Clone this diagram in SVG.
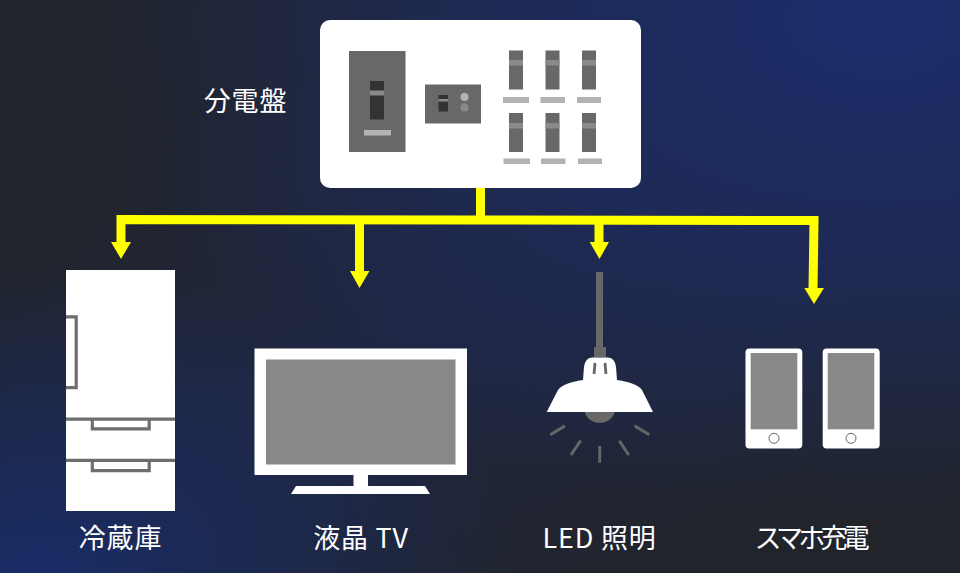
<svg xmlns="http://www.w3.org/2000/svg" width="960" height="573" viewBox="0 0 960 573">
<style>
.w{fill:#fff}.d{fill:#686868}.k{fill:#333}.m{fill:#8a8a8a}.l{fill:#b3b3b3}
.scr{fill:#888}
.conn{fill:none;stroke:#ff0;stroke-width:9}
.head{fill:#ff0}
.ray{stroke:#666;stroke-width:3;fill:none}
.line{fill:none;stroke:#6e6e6e;stroke-width:3.2}
text{font-family:"Noto Sans CJK JP","Noto Sans",sans-serif;font-size:27px;font-weight:400;letter-spacing:.8px;fill:#fff;text-anchor:middle}
</style>
<defs>
<radialGradient id="tr" gradientUnits="userSpaceOnUse" cx="0" cy="0" r="1" gradientTransform="translate(880 20) scale(800 500)">
<stop offset="0" stop-color="#1c2d6c"/>
<stop offset=".5" stop-color="#1c2d6c" stop-opacity=".62"/>
<stop offset="1" stop-color="#1c2d6c" stop-opacity="0"/>
</radialGradient>
<radialGradient id="bl" gradientUnits="userSpaceOnUse" cx="0" cy="0" r="1" gradientTransform="translate(40 570) scale(480 310)">
<stop offset="0" stop-color="#192c66"/>
<stop offset=".5" stop-color="#192c66" stop-opacity=".55"/>
<stop offset="1" stop-color="#192c66" stop-opacity="0"/>
</radialGradient>
<radialGradient id="mid" gradientUnits="userSpaceOnUse" cx="0" cy="0" r="1" gradientTransform="translate(430 340) scale(430 280)">
<stop offset="0" stop-color="#1f2748" stop-opacity=".75"/>
<stop offset="1" stop-color="#1f2748" stop-opacity="0"/>
</radialGradient>
</defs>
<rect width="960" height="573" fill="#21242b"/>
<rect width="960" height="573" fill="url(#mid)"/>
<rect width="960" height="573" fill="url(#tr)"/>
<rect width="960" height="573" fill="url(#bl)"/>
<g id="connectors">
<path class="conn" d="M480.500 188V219.500"/>
<path class="conn" d="M121 244V219.500L480 220L814 220.500L813 290"/>
<path class="conn" d="M359.500 220V273"/>
<path class="conn" d="M599 220V244"/>
<path class="head" d="M111 242H131L121 259Z"/>
<path class="head" d="M350 271H369.500L359.500 288Z"/>
<path class="head" d="M589.700 242H609L599.500 259Z"/>
<path class="head" d="M804.300 288H824L814 304Z"/>
</g>
<g id="panel">
<rect class="w" x="320" y="20" width="321" height="168" rx="10"/>
<rect class="d" x="349" y="51" width="56.500" height="101"/>
<rect class="k" x="370" y="81" width="14" height="38.500"/>
<rect class="m" x="370" y="90.500" width="14" height="5"/>
<rect class="l" x="364" y="130" width="27" height="5.500"/>
<rect class="d" x="425" y="84.500" width="56" height="39"/>
<rect class="k" x="438.500" y="95" width="9.500" height="16.500"/>
<rect class="m" x="438.500" y="99" width="9.500" height="2.500"/>
<circle class="l" cx="464.500" cy="97" r="4"/>
<circle class="m" cx="464.500" cy="107.500" r="4"/>
<rect class="d" x="509" y="50.500" width="14" height="39"/><rect class="m" x="509" y="60" width="14" height="5.500"/>
<rect class="d" x="545.500" y="50.500" width="14" height="39"/><rect class="m" x="545.500" y="60" width="14" height="5.500"/>
<rect class="d" x="582" y="50.500" width="14" height="39"/><rect class="m" x="582" y="60" width="14" height="5.500"/>
<rect class="l" x="503" y="97" width="26" height="6"/><rect class="l" x="540.500" y="97" width="24.500" height="6"/><rect class="l" x="577" y="97" width="24" height="6"/>
<rect class="d" x="509" y="113" width="14" height="39"/><rect class="m" x="509" y="123" width="14" height="5.500"/>
<rect class="d" x="545.500" y="113" width="14" height="39"/><rect class="m" x="545.500" y="123" width="14" height="5.500"/>
<rect class="d" x="582" y="113" width="14" height="39"/><rect class="m" x="582" y="123" width="14" height="5.500"/>
<rect class="l" x="503.500" y="158.500" width="26.500" height="5.500"/><rect class="l" x="541" y="158.500" width="24.500" height="5.500"/><rect class="l" x="578" y="158.500" width="24" height="5.500"/>
<text x="245.500" y="111">分電盤</text>
</g>
<g id="fridge">
<rect class="w" x="66" y="270" width="109" height="241"/>
<path class="line" d="M66 316.900H76.200V387.700H66"/>
<path class="line" d="M66 419.200H175M92.300 419.200V428.800H149.200V419.200"/>
<path class="line" d="M66 460.400H175M92.300 460.400V470.700H149.200V460.400"/>
<text x="120.500" y="548">冷蔵庫</text>
</g>
<g id="tv">
<rect class="w" x="254.500" y="348.500" width="212.500" height="126.500"/>
<rect class="scr" x="266" y="359.500" width="189.500" height="105"/>
<rect class="w" x="353.500" y="475" width="14.500" height="11"/>
<path class="w" d="M296 486H425L430 494H291Z"/>
<text x="361" y="548">液晶 TV</text>
</g>
<g id="lamp">
<rect class="d" x="596" y="272" width="7" height="76"/>
<rect class="d" x="594" y="347" width="12" height="10"/>
<path class="d" d="M584.500 410H615A15.300 14 0 0 1 584.500 410Z"/>
<path class="w" d="M546.700 412L558 390Q563 383 583 380L584 367Q585 358 592 357.500H608Q615 358 616 367L617 380Q637 383 642 390L653 412Z"/>
<path fill="none" stroke="#666" stroke-width="2.800" d="M595 363L594 374M605 363L606 374"/>
<path class="ray" d="M550.300 434.800L565 425.900M570.900 455L580.700 440.700M599.700 446V462.700M619.300 440.700L628.700 455M634.700 425.900L649.300 434.800"/>
<text x="599.500" y="548">LED 照明</text>
</g>
<g id="phones">
<rect class="w" x="745.500" y="348.500" width="56.800" height="100" rx="4"/>
<rect class="scr" x="750.700" y="353" width="46.600" height="76.300"/>
<circle cx="774" cy="438.300" r="5" fill="#fff" stroke="#666" stroke-width="1"/>
<rect class="w" x="822.700" y="348.500" width="57" height="100" rx="4"/>
<rect class="scr" x="827.700" y="353" width="46.600" height="76.300"/>
<circle cx="851" cy="438.300" r="5" fill="#fff" stroke="#666" stroke-width="1"/>
<text x="812.500" y="548" textLength="116" lengthAdjust="spacing">スマホ充電</text>
</g>
</svg>
